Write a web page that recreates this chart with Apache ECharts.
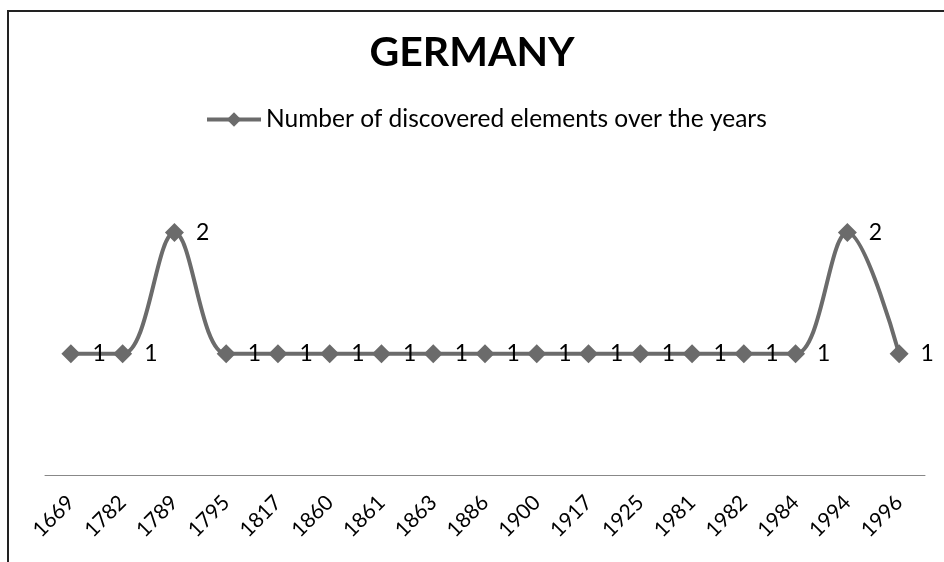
<!DOCTYPE html>
<html>
<head>
<meta charset="utf-8">
<script src="https://cdn.jsdelivr.net/npm/echarts@6/dist/echarts.min.js"></script>
<style>
html, body { margin: 0; padding: 0; background: #fff; }
#chart { width: 944px; height: 562px; }
#frame { position: absolute; left: 7px; top: 10px; width: 950px; height: 560px; border-left: 2px solid #222; border-top: 2px solid #222; pointer-events: none; }
</style>
</head>
<body>
<div id="chart"></div>
<div id="frame"></div>
<script>
var years = ['1669', '1782', '1789', '1795', '1817', '1860', '1861', '1863', '1886', '1900', '1917', '1925', '1981', '1982', '1984', '1994', '1996'];
var discovered = [1, 1, 2, 1, 1, 1, 1, 1, 1, 1, 1, 1, 1, 1, 1, 2, 1];
var seriesName = 'Number of discovered elements over the years';

var chart = echarts.init(document.getElementById('chart'));
var fontName = 'Lato, "Open Sans", sans-serif';
var grey = '#6b6b6b';

chart.setOption({
	animation: false,
	title: {
		text: 'GERMANY',
		left: 'center',
		top: 27,
		textStyle: { fontFamily: fontName, fontSize: 41, fontWeight: 'bold', color: '#000' }
	},
	legend: {
		data: [seriesName],
		top: 107,
		left: 205,
		padding: 0,
		itemWidth: 54,
		itemHeight: 18,
		itemGap: 4,
		itemStyle: { color: grey },
		lineStyle: { color: grey, width: 4 },
		textStyle: { fontFamily: fontName, fontSize: 24.5, color: '#000' }
	},
	grid: { left: 45, right: 19, top: 172, bottom: 87, containLabel: false },
	xAxis: {
		type: 'category',
		data: years,
		boundaryGap: true,
		axisLine: { lineStyle: { color: '#888', width: 1 } },
		axisTick: { show: false },
		axisLabel: {
			rotate: 45,
			margin: 24,
			interval: 0,
			fontFamily: fontName,
			fontSize: 21,
			color: '#000'
		}
	},
	yAxis: {
		type: 'value',
		min: 0,
		max: 2.5,
		show: false,
		splitLine: { show: false }
	},
	series: [{
		name: seriesName,
		type: 'line',
		data: discovered,
		smooth: 0.35,
		symbol: 'diamond',
		symbolSize: 19,
		itemStyle: { color: grey },
		lineStyle: { color: grey, width: 4 },
		label: {
			show: true,
			position: 'right',
			distance: 12,
			fontFamily: fontName,
			fontSize: 23,
			color: '#000'
		}
	}]
});
</script>
</body>
</html>
